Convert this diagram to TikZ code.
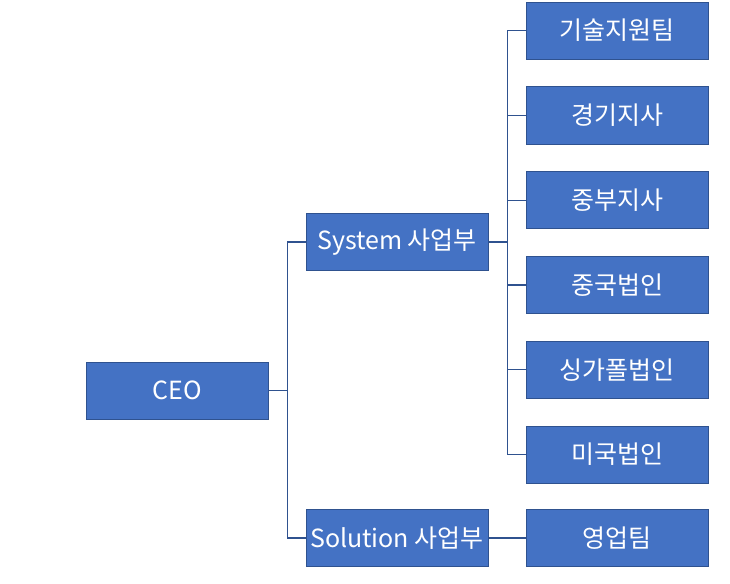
\documentclass[tikz,border=0pt]{standalone}
\usepackage{fontspec}
\setmainfont{Noto Sans CJK KR}
\usetikzlibrary{calc}
\definecolor{boxblue}{RGB}{68,114,196}
\definecolor{linkblue}{RGB}{47,82,143}
\tikzset{
  unit/.style={draw=linkblue,line width=0.6pt,fill=boxblue,text=white,
    minimum width=182pt,minimum height=57pt,inner sep=0pt,
    font=\fontsize{25}{28}\selectfont},
  link/.style={draw=linkblue,line width=1.2pt}
}
\begin{document}
\begin{tikzpicture}[x=1pt,y=-1pt]
  \useasboundingbox (0,0) rectangle (730,583);
  \node[unit] (ceo) at (177,390.5) {CEO};
  \node[unit] (sys) at (397,242) {System 사업부};
  \node[unit] (sol) at (397,538) {Solution 사업부};
  \node[unit] (sales) at (617,538) {영업팀};
  \foreach \i/\t in {0/기술지원팀,1/경기지사,2/중부지사,3/중국법인,4/싱가폴법인,5/미국법인}
    \node[unit] (br\i) at (617,30.5+84.8*\i) {\t};
  % CEO to the two divisions
  \draw[link] (ceo.east) -- ++(19,0) coordinate (trunk);
  \draw[link] (sys.west) -| (trunk) |- (sol.west);
  % System division to its teams
  \draw[link] (sys.east) -- ++(19,0) coordinate (spine);
  \foreach \i in {0,...,5} \draw[link] (spine) |- (br\i.west);
  \draw[link] (sol.east) -- (sales.west);
\end{tikzpicture}
\end{document}
